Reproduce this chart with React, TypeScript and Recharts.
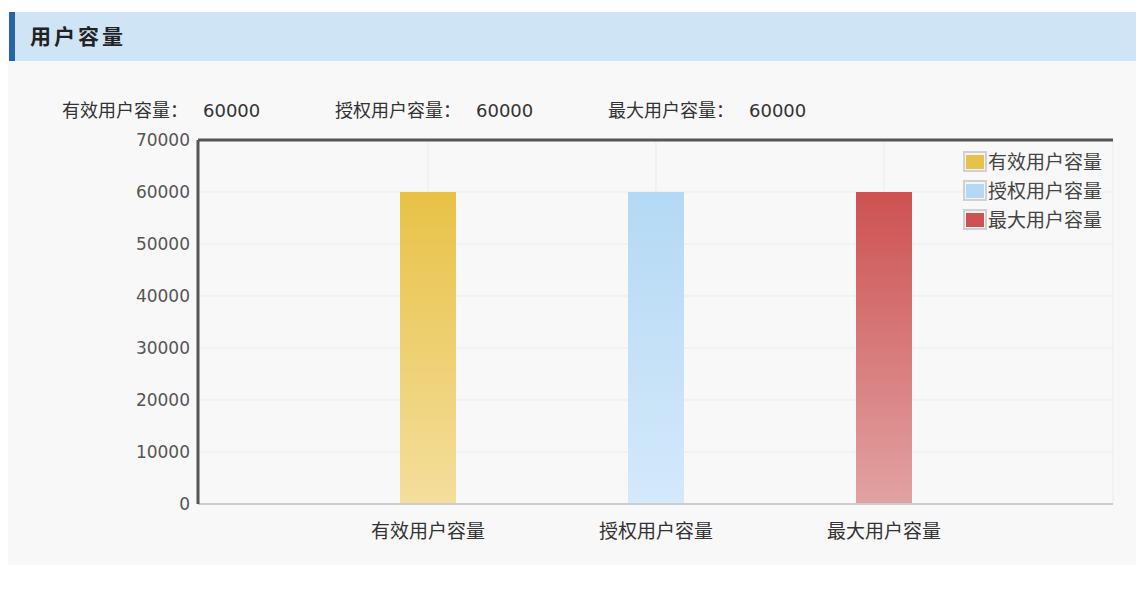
import React from 'react';
import { BarChart, Bar, XAxis, YAxis, CartesianGrid, ReferenceLine } from 'recharts';

const categories = ['有效用户容量', '授权用户容量', '最大用户容量'];
const seriesNames = ['有效用户容量', '授权用户容量', '最大用户容量'];
const seriesValues = [60000, 60000, 60000];
const yTicks = [0, 10000, 20000, 30000, 40000, 50000, 60000, 70000];
const summaryLabels = ['有效用户容量：', '授权用户容量：', '最大用户容量：'];
const summaryValues = ['60000', '60000', '60000'];
const pageTitle = '用户容量';

const colorsTop = ['#e8c247', '#b4d9f4', '#cd5252'];
const colorsBottom = ['#f4de9c', '#d4e9fa', '#e2a2a2'];
const keys = ['s0', 's1', 's2'];

const data = categories.map((c, i) => {
  const row: any = { name: c };
  keys.forEach((k, j) => {
    row[k] = i === j ? seriesValues[j] : 0;
  });
  return row;
});

const FONT = '"DejaVu Sans", "Noto Sans CJK SC", sans-serif';

const LegendBox = () => (
  <div style={{ position: 'absolute', left: 955, top: 139, fontFamily: FONT }}>
    {seriesNames.map((n, i) => (
      <div key={n} style={{ display: 'flex', alignItems: 'center', height: 29 }}>
        <div style={{ width: 20, height: 17, border: '2px solid #d0d0d0', boxSizing: 'content-box', display: 'flex', alignItems: 'center', justifyContent: 'center', background: '#f4f4f4' }}>
          <div style={{ width: 18, height: 14, background: colorsTop[i] }} />
        </div>
        <span style={{ fontSize: 19, color: '#444', marginLeft: 1, lineHeight: '20px' }}>{n}</span>
      </div>
    ))}
  </div>
);

export default function App() {
  return (
    <div style={{ position: 'relative', width: 1128, height: 604, fontFamily: FONT }}>
      <div style={{ position: 'absolute', left: 0, top: 4, width: 1128, height: 553, background: '#f8f8f8' }} />
      <div style={{ position: 'absolute', left: 1, top: 4, width: 1127, height: 49, background: '#cfe4f4', borderLeft: '6px solid #2764a6', boxSizing: 'border-box' }} />
      <div style={{ position: 'absolute', left: 22, top: 14, fontSize: 21, fontWeight: 'bold', color: '#222', letterSpacing: 3, lineHeight: '30px' }}>{pageTitle}</div>
      {summaryLabels.map((l, i) => (
        <div key={l} style={{ position: 'absolute', left: 54 + i * 273, top: 91, fontSize: 18, color: '#333', whiteSpace: 'nowrap', lineHeight: '24px' }}>
          <span>{l}</span>
          <span style={{ marginLeft: 15 }}>{summaryValues[i]}</span>
        </div>
      ))}
      <div style={{ position: 'absolute', left: 0, top: 120 }}>
        <BarChart width={1128} height={440} data={data} margin={{ top: 12, right: 23, left: 0, bottom: 0 }} barSize={56}>
          <defs>
            {keys.map((k, i) => (
              <linearGradient key={k} id={'g' + k} x1="0" y1="0" x2="0" y2="1">
                <stop offset="0%" stopColor={colorsTop[i]} />
                <stop offset="100%" stopColor={colorsBottom[i]} />
              </linearGradient>
            ))}
          </defs>
          <CartesianGrid stroke="#ebebeb" strokeWidth={1} />
          <XAxis
            dataKey="name"
            padding={{ left: 116, right: 115 }}
            height={64}
            tickLine={false}
            tickMargin={15}
            axisLine={{ stroke: '#cccccc', strokeWidth: 2 }}
            tick={{ fontSize: 19, fill: '#333', fontFamily: FONT }}
          />
          <YAxis
            width={190}
            domain={[0, 70000]}
            ticks={yTicks}
            tickLine={false}
            axisLine={{ stroke: '#555', strokeWidth: 3 }}
            tick={{ fontSize: 17, fill: '#555', fontFamily: FONT }}
            interval={0}
          />
          <YAxis yAxisId="r" orientation="right" width={0} tick={false} tickLine={false} axisLine={{ stroke: '#555', strokeWidth: 3 }} domain={[0, 70000]} />
          <ReferenceLine y={70000} stroke="#555" strokeWidth={3} />
          {keys.map((k, i) => (
            <Bar key={k} dataKey={k} name={seriesNames[i]} stackId="a" fill={`url(#g${k})`} isAnimationActive={false} />
          ))}
        </BarChart>
      </div>
      <LegendBox />
    </div>
  );
}
